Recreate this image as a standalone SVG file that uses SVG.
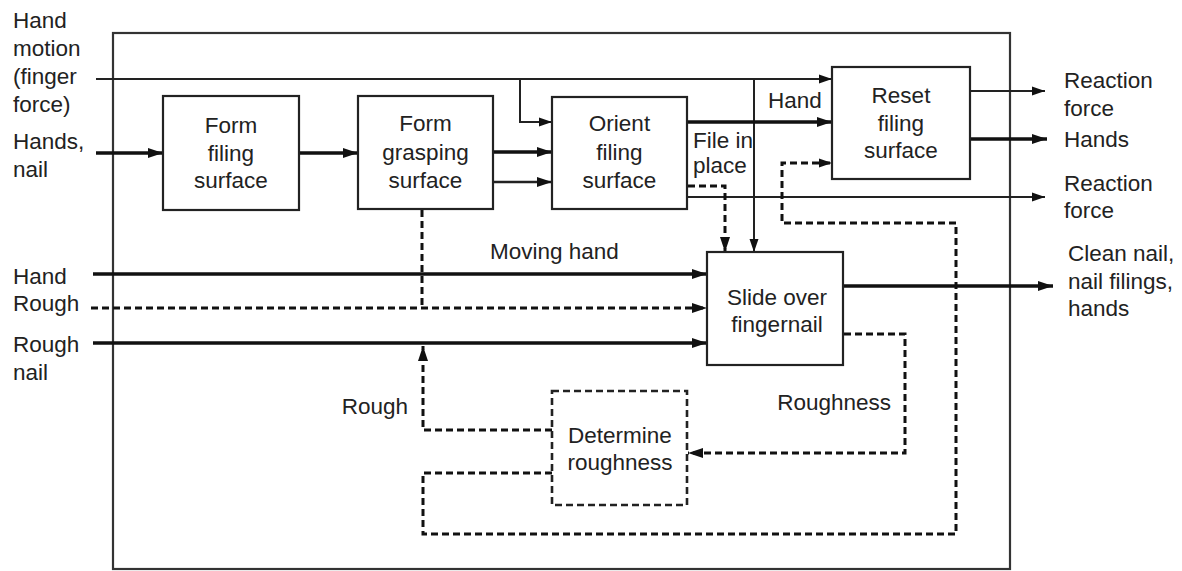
<svg xmlns="http://www.w3.org/2000/svg" width="1182" height="571" viewBox="0 0 1182 571">
<style>
text{font-family:"Liberation Sans",Arial,sans-serif;font-size:22.5px;fill:#222}
.c{text-anchor:middle}
.e{text-anchor:end}
.box{fill:#fff;stroke:#222;stroke-width:2.2}
.dbox{fill:none;stroke:#222;stroke-width:2.6;stroke-dasharray:7 4}
.thin{fill:none;stroke:#222;stroke-width:2}
.med{fill:none;stroke:#222;stroke-width:2.6}
.thick{fill:none;stroke:#111;stroke-width:3.4}
.dash{fill:none;stroke:#111;stroke-width:3;stroke-dasharray:7 4}
</style>
<defs>
<marker id="big" markerUnits="userSpaceOnUse" markerWidth="16" markerHeight="12" refX="15" refY="6" orient="auto"><path d="M0,1 L15,6 L0,11 z" fill="#111"/></marker>
<marker id="sm" markerUnits="userSpaceOnUse" markerWidth="14" markerHeight="10" refX="13" refY="5" orient="auto"><path d="M0,0.5 L13,5 L0,9.5 z" fill="#111"/></marker>
</defs>
<rect x="113" y="33" width="897" height="536" fill="none" stroke="#333" stroke-width="2.2"/>
<g id="labels">
<text x="13" y="28">Hand</text>
<text x="13" y="56">motion</text>
<text x="13" y="84">(finger</text>
<text x="13" y="112">force)</text>
<text x="13" y="149">Hands,</text>
<text x="13" y="177">nail</text>
<text x="13" y="284">Hand</text>
<text x="13" y="311">Rough</text>
<text x="13" y="352">Rough</text>
<text x="13" y="380">nail</text>
<text x="768" y="108">Hand</text>
<text x="693" y="148">File in</text>
<text x="693" y="173">place</text>
<text x="490" y="259">Moving hand</text>
<text class="e" x="891" y="410">Roughness</text>
<text class="e" x="408" y="414">Rough</text>
<text x="1064" y="88">Reaction</text>
<text x="1064" y="116">force</text>
<text x="1064" y="147">Hands</text>
<text x="1064" y="191">Reaction</text>
<text x="1064" y="218">force</text>
<text x="1068" y="261">Clean nail,</text>
<text x="1068" y="288.5">nail filings,</text>
<text x="1068" y="316">hands</text>
</g>
<g id="connectors">
<path class="thin" d="M96,79 H832" marker-end="url(#sm)"/>
<path class="thin" d="M520,79 V122 H552" marker-end="url(#sm)"/>
<path class="thin" d="M754,79 V252" marker-end="url(#sm)"/>
<path class="thick" d="M96,153 H163" marker-end="url(#big)"/>
<path class="thick" d="M299,153 H358" marker-end="url(#big)"/>
<path class="thick" d="M493,152 H552" marker-end="url(#big)"/>
<path class="med" d="M493,182 H552" marker-end="url(#big)"/>
<path class="thick" d="M688,122 H832" marker-end="url(#big)"/>
<path class="thin" d="M688,197 H1045" marker-end="url(#sm)"/>
<path class="dash" d="M688,186 H725 V252" marker-end="url(#big)"/>
<path class="thin" d="M970,91 H1045" marker-end="url(#sm)"/>
<path class="thick" d="M970,139 H1047" marker-end="url(#big)"/>
<path class="dash" d="M552,473 H423 V534 H956 V223 H782 V163 H832" marker-end="url(#sm)"/>
<path class="thick" d="M93,274 H707" marker-end="url(#big)"/>
<path class="dash" d="M91,308 H707" marker-end="url(#big)"/>
<path class="dash" d="M422,210 V308"/>
<path class="thick" d="M93,343 H707" marker-end="url(#big)"/>
<path class="dash" d="M552,430 H423 V346" marker-end="url(#big)"/>
<path class="dash" d="M844,334 H905 V453 H688" marker-end="url(#big)"/>
<path class="thick" d="M844,286 H1053" marker-end="url(#big)"/>
</g>
<g id="form-filing">
<rect class="box" x="163" y="96" width="136" height="114"/>
<text class="c" x="231" y="133">Form</text>
<text class="c" x="231" y="160.5">filing</text>
<text class="c" x="231" y="188">surface</text>
</g>
<g id="form-grasping">
<rect class="box" x="358" y="96" width="135" height="113"/>
<text class="c" x="425.5" y="131">Form</text>
<text class="c" x="425.5" y="159.5">grasping</text>
<text class="c" x="425.5" y="188">surface</text>
</g>
<g id="orient">
<rect class="box" x="552" y="97" width="135" height="112"/>
<text class="c" x="619.5" y="131">Orient</text>
<text class="c" x="619.5" y="159.5">filing</text>
<text class="c" x="619.5" y="188">surface</text>
</g>
<g id="reset">
<rect class="box" x="832" y="67" width="138" height="112"/>
<text class="c" x="901" y="103">Reset</text>
<text class="c" x="901" y="130.5">filing</text>
<text class="c" x="901" y="158">surface</text>
</g>
<g id="slide">
<rect class="box" x="707" y="252" width="136" height="113"/>
<text class="c" x="777" y="305">Slide over</text>
<text class="c" x="777" y="332">fingernail</text>
</g>
<g id="determine">
<rect class="dbox" x="552" y="391" width="135" height="114"/>
<text class="c" x="620" y="443">Determine</text>
<text class="c" x="620" y="470">roughness</text>
</g>
</svg>
